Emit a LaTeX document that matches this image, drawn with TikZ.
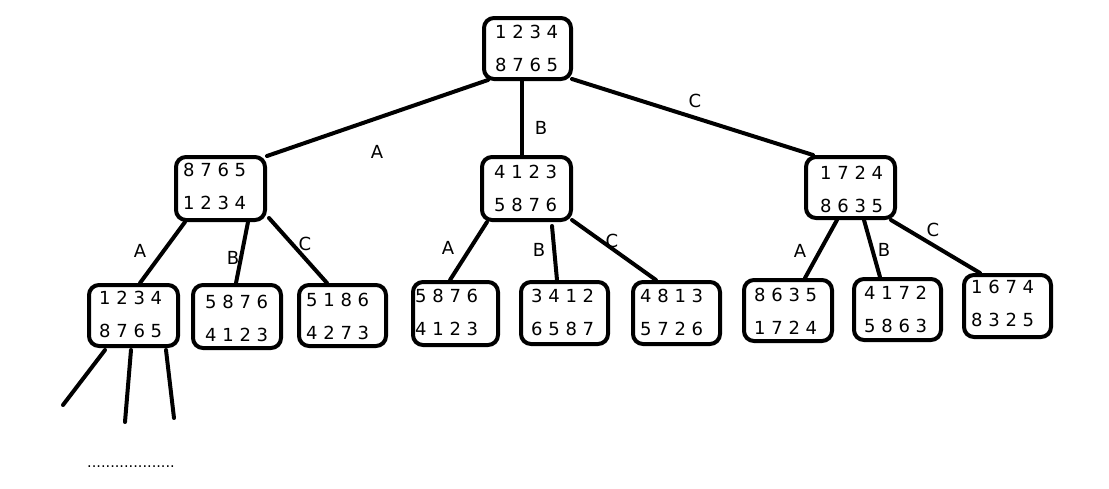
\documentclass[tikz,border=0pt]{standalone}
\usepackage{fontspec}
\setmainfont{DejaVu Sans}
\usetikzlibrary{calc}
\begin{document}
\begin{tikzpicture}[x=1pt,y=-1pt,
  statebox/.style={draw=black,line width=4pt,rounded corners=10pt,fill=white,inner sep=0pt},
  rowtext/.style={anchor=west,inner sep=0pt,font=\fontsize{18}{18}\selectfont},
  edgelabel/.style={inner sep=0pt,font=\fontsize{18}{18}\selectfont},
  link/.style={line width=4pt,line cap=round}]
\useasboundingbox (0,0) rectangle (1109,488);
% boxes
\newcommand{\statenode}[9]{%
  \node[statebox,minimum width=#4pt,minimum height=#5pt] (#1) at (#2,#3) {};
  \node[rowtext] (#1-a) at (#6,#8) {#7};
  \node[rowtext] (#1-b) at (#6,#8+33) {#9};}
\statenode{top}{527.5}{48.5}{87}{61}{495}{1 2 3 4}{32}{8 7 6 5}
\statenode{L}{220.5}{188.5}{89}{63}{183}{8 7 6 5}{170}{1 2 3 4}
\statenode{M}{526.5}{188.5}{89}{63}{494}{4 1 2 3}{172}{5 8 7 6}
\statenode{R}{850.5}{187.5}{89}{61}{820}{1 7 2 4}{173}{8 6 3 5}
\statenode{LL}{133.5}{315.5}{89}{61}{99}{1 2 3 4}{298}{8 7 6 5}
\statenode{LB}{237}{316.5}{88}{63}{205}{5 8 7 6}{302}{4 1 2 3}
\statenode{LC}{342.5}{315.5}{87}{61}{306}{5 1 8 6}{300}{4 2 7 3}
\statenode{ML}{455.5}{313.5}{85}{63}{415}{5 8 7 6}{296}{4 1 2 3}
\statenode{MB}{564.5}{313}{87}{62}{531}{3 4 1 2}{296}{6 5 8 7}
\statenode{MC}{676.5}{313}{87}{62}{640}{4 8 1 3}{296}{5 7 2 6}
\statenode{RL}{788}{310.5}{88}{61}{754}{8 6 3 5}{295}{1 7 2 4}
\statenode{RB}{897.5}{309.5}{87}{61}{864}{4 1 7 2}{293}{5 8 6 3}
\statenode{RC}{1007.5}{306}{87}{62}{971}{1 6 7 4}{287}{8 3 2 5}
% connectors
\draw[link] ($(top.south west)+(6,-1)$) -- ($(L.north east)+(0,1)$);
\draw[link] ($(top.south)+(-5.5,0)$) -- ($(M.north)+(-4.5,0)$);
\draw[link] ($(top.south east)+(-1,-2)$) -- ($(R.north west)+(9,0)$);
\draw[link] ($(L.south west)+(11,0)$) -- ($(LL.north)+(6.5,0)$);
\draw[link] ($(L.south)+(27.5,0)$) -- ($(LB.north)+(-1,0)$);
\draw[link] ($(L.south east)+(2,-4)$) -- ($(LC.north)+(-15.5,0)$);
\draw[link] ($(M.south west)+(7,0)$) -- ($(ML.north)+(-5.5,0)$);
\draw[link] ($(M.south)+(25.5,4)$) -- ($(MB.north)+(-7.5,0)$);
\draw[link] ($(M.south east)+(-1,-2)$) -- ($(MC.north)+(-20.5,0)$);
\draw[link] ($(R.south)+(-13.5,0)$) -- ($(RL.north)+(17,0)$);
\draw[link] ($(R.south)+(13.5,0)$) -- ($(RB.north)+(-17.5,0)$);
\draw[link] ($(R.south east)+(-6,0)$) -- ($(RC.north)+(-27.5,0)$);
% open branches below LL
\coordinate (f1) at (63,405);
\coordinate (f2) at (125,422);
\coordinate (f3) at (174,418);
\draw[link] ($(LL.south west)+(18,2)$) -- (f1);
\draw[link] ($(LL.south)+(-2.5,2)$) -- (f2);
\draw[link] ($(LL.south)+(32.5,2)$) -- (f3);
% labels
\node[edgelabel] (la1) at (377,152) {A};
\node[edgelabel] (lb1) at (541,128) {B};
\node[edgelabel] (lc1) at (695,101) {C};
\node[edgelabel] (la2) at (140,251) {A};
\node[edgelabel] (lb2) at (233,258) {B};
\node[edgelabel] (lc2) at (305,244) {C};
\node[edgelabel] (la3) at (448,248) {A};
\node[edgelabel] (lb3) at (539,250) {B};
\node[edgelabel] (lc3) at (612,241) {C};
\node[edgelabel] (la4) at (800,251) {A};
\node[edgelabel] (lb4) at (884,250) {B};
\node[edgelabel] (lc4) at (933,230) {C};
\node[inner sep=0pt,font=\fontsize{14.5}{14.5}\selectfont] (dots) at (131,467) {...................};
\end{tikzpicture}
\end{document}
